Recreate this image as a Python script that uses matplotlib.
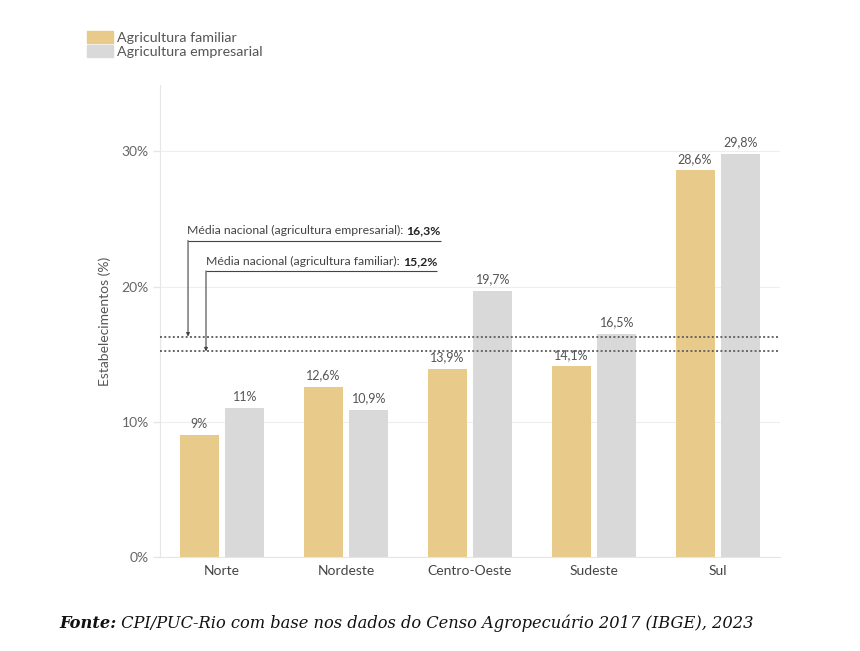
import matplotlib
matplotlib.use('Agg')
import matplotlib.pyplot as plt
from matplotlib.patches import Patch
import numpy as np

# dados
regioes = ['Norte', 'Nordeste', 'Centro-Oeste', 'Sudeste', 'Sul']
familiar = [9.0, 12.6, 13.9, 14.1, 28.6]
empresarial = [11.0, 10.9, 19.7, 16.5, 29.8]
media_familiar = 15.2
media_empresarial = 16.3
yticks = [0, 10, 20, 30]

COR_FAM = '#e8ca8a'
COR_EMP = '#d9d9d9'

plt.rcParams['font.family'] = ['Lato', 'DejaVu Sans']


def fmt(v):
    s = f"{v:.1f}".replace('.', ',')
    if s.endswith(',0'):
        s = s[:-2]
    return s + '%'


fig = plt.figure(figsize=(8.6, 6.51), dpi=100)
ax = fig.add_axes([160 / 860, 1 - 557 / 651, 620 / 860, 472 / 651])

x = np.arange(len(regioes))
w = 0.315
off = 0.185
b1 = ax.bar(x - off, familiar, w, color=COR_FAM, zorder=2)
b2 = ax.bar(x + off, empresarial, w, color=COR_EMP, zorder=2)

for bars, vals in [(b1, familiar), (b2, empresarial)]:
    for r, v in zip(bars, vals):
        ax.text(r.get_x() + r.get_width() / 2, v + 0.4, fmt(v), ha='center', va='bottom',
                fontsize=9, color='#555555')

ax.set_xlim(-0.5, 4.5)
ax.set_ylim(0, 34.9)
ax.set_xticks(x)
ax.set_xticklabels(regioes, fontsize=10, color='#444444')
ax.tick_params(axis='x', length=0, pad=6)
ax.set_yticks(yticks)
ax.set_yticklabels([f'{t}%' for t in yticks], fontsize=10, color='#666666')
ax.tick_params(axis='y', length=5, color='#e6e6e6', width=1, pad=3)
ax.grid(axis='y', color='#eeeeee', lw=0.8, zorder=0)
for s in ['top', 'right']:
    ax.spines[s].set_visible(False)
ax.spines['left'].set_color('#e6e6e6')
ax.spines['bottom'].set_color('#e6e6e6')
ax.set_ylabel('Estabelecimentos (%)', fontsize=10, color='#555555', labelpad=8)

# linhas de média
ax.axhline(media_empresarial, color='#666666', ls=(0, (1, 1.2)), lw=1.4, zorder=3)
ax.axhline(media_familiar, color='#666666', ls=(0, (1, 1.2)), lw=1.4, zorder=3)

# anotações (texto normal + valor em negrito, alinhados à direita no fim do traço)
notas = [
    ('Média nacional (agricultura empresarial):', fmt(media_empresarial), -0.274, 1.766, 23.4, media_empresarial),
    ('Média nacional (agricultura familiar):', fmt(media_familiar), -0.129, 1.734, 21.15, media_familiar),
]
for txt, val, x0, x1, yl, ym in notas:
    ax.plot([x0, x1], [yl, yl], color='#444444', lw=0.8, zorder=4, solid_capstyle='butt')
    ax.annotate('', xy=(x0, ym), xytext=(x0, yl),
                arrowprops=dict(arrowstyle='-|>', mutation_scale=5, lw=0.8, color='#444444',
                                shrinkA=0, shrinkB=0), zorder=4)
    tb = ax.text(x1, yl + 0.3, val, fontsize=8.8, fontweight='bold', color='#222222',
                 va='bottom', ha='right')
    ax.annotate(txt + ' ', xy=(0, 0), xycoords=tb, va='bottom', ha='right',
                fontsize=8.8, color='#444444')

# legenda
handles = [Patch(color=COR_FAM), Patch(color=COR_EMP)]
fig.legend(handles, ['Agricultura familiar', 'Agricultura empresarial'], loc='upper left',
           bbox_to_anchor=(87 / 860, 1 - 31 / 651), frameon=False, fontsize=10.3,
           handlelength=1.85, handleheight=0.9, labelspacing=0.1, handletextpad=0.25,
           borderpad=0, borderaxespad=0, labelcolor='#555555')

# fonte
serif = ['DejaVu Serif']
tf = fig.text(59 / 860, 1 - 624 / 651, 'Fonte:', fontsize=11.7, fontweight='bold',
              style='italic', family=serif, va='center', color='#111111')
ax.annotate(' CPI/PUC-Rio com base nos dados do Censo Agropecuário 2017 (IBGE), 2023',
            xy=(1, 0), xycoords=tf, va='bottom', ha='left', fontsize=11.7, style='italic',
            family=serif, color='#111111', annotation_clip=False)

fig.savefig('out.png', dpi=100)
